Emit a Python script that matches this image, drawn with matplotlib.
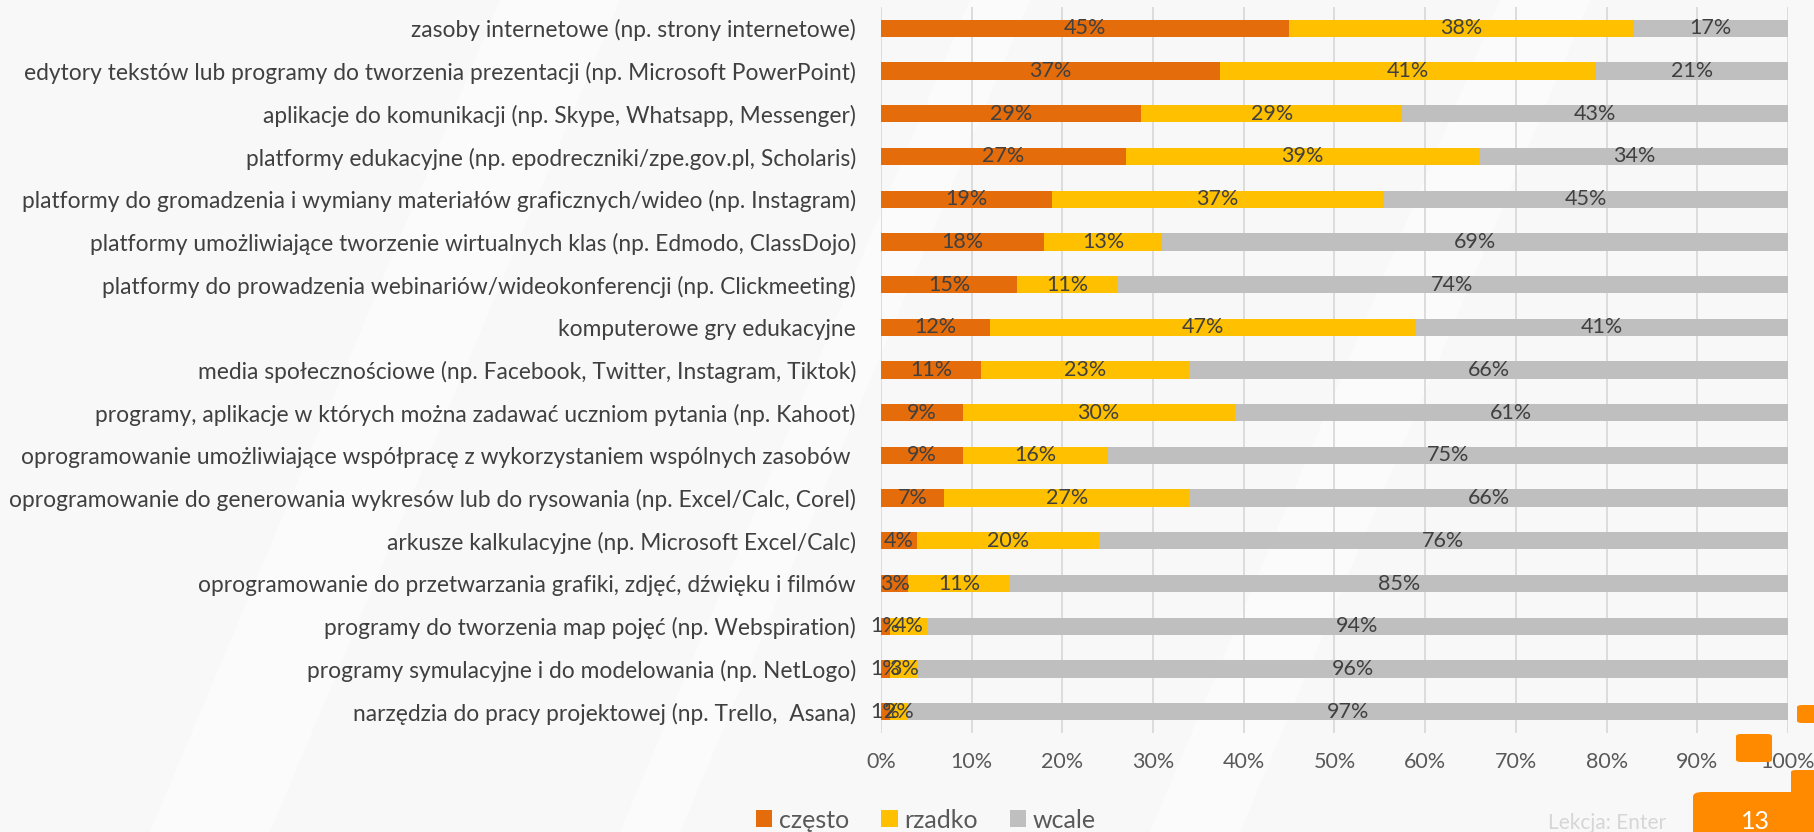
import matplotlib.pyplot as plt
from matplotlib.patches import FancyBboxPatch
import numpy as np

plt.rcParams['font.family'] = ['Lato', 'DejaVu Sans']

categories = [
    'zasoby internetowe (np. strony internetowe)',
    'edytory tekstów lub programy do tworzenia prezentacji (np. Microsoft PowerPoint)',
    'aplikacje do komunikacji (np. Skype, Whatsapp, Messenger)',
    'platformy edukacyjne (np. epodreczniki/zpe.gov.pl, Scholaris)',
    'platformy do gromadzenia i wymiany materiałów graficznych/wideo (np. Instagram)',
    'platformy umożliwiające tworzenie wirtualnych klas (np. Edmodo, ClassDojo)',
    'platformy do prowadzenia webinariów/wideokonferencji (np. Clickmeeting)',
    'komputerowe gry edukacyjne',
    'media społecznościowe (np. Facebook, Twitter, Instagram, Tiktok)',
    'programy, aplikacje w których można zadawać uczniom pytania (np. Kahoot)',
    'oprogramowanie umożliwiające współpracę z wykorzystaniem wspólnych zasobów ',
    'oprogramowanie do generowania wykresów lub do rysowania (np. Excel/Calc, Corel)',
    'arkusze kalkulacyjne (np. Microsoft Excel/Calc)',
    'oprogramowanie do przetwarzania grafiki, zdjęć, dźwięku i filmów',
    'programy do tworzenia map pojęć (np. Webspiration)',
    'programy symulacyjne i do modelowania (np. NetLogo)',
    'narzędzia do pracy projektowej (np. Trello,  Asana)',
]
czesto = [45, 37, 29, 27, 19, 18, 15, 12, 11, 9, 9, 7, 4, 3, 1, 1, 1]
rzadko = [38, 41, 29, 39, 37, 13, 11, 47, 23, 30, 16, 27, 20, 11, 4, 3, 2]
wcale = [17, 21, 43, 34, 45, 69, 74, 41, 66, 61, 75, 66, 76, 85, 94, 96, 97]

series = ['często', 'rzadko', 'wcale']
colors = ['#E46C0A', '#FFC000', '#BFBFBF']

W, H = 1815, 832
fig = plt.figure(figsize=(W / 100, H / 100), dpi=100, facecolor='#F8F8F8')

# faint diagonal streaks of the slide background (behind everything)
for x0, w in [(150, 120), (620, 60), (1150, 90)]:
    fig.patches.append(plt.Polygon([[x0 / W, 0], [(x0 + w) / W, 0], [(x0 + w + 350) / W, 1], [(x0 + 350) / W, 1]],
                                   closed=True, transform=fig.transFigure, facecolor='white',
                                   alpha=0.5, edgecolor='none', zorder=-10))

ax = fig.add_axes([881 / W, 1 - 733 / H, (1788 - 881) / W, (733 - 7) / H])
ax.set_facecolor('none')

data = np.array([czesto, rzadko, wcale], dtype=float)
shares = data / data.sum(axis=0) * 100
y = np.arange(len(categories))
left = np.zeros(len(categories))
for k in range(3):
    ax.barh(y, shares[k], left=left, height=0.405, color=colors[k], label=series[k], zorder=2)
    for yi, l, s, v in zip(y, left, shares[k], data[k]):
        ax.text(l + s / 2, yi, f'{int(v)}%', ha='center', va='center',
                fontsize=15.5, color='#404040', zorder=3)
    left += shares[k]

ax.set_xlim(0, 100)
ax.set_ylim(len(categories) - 0.5, -0.5)
ax.set_xticks(np.arange(0, 101, 10))
ax.set_xticklabels([f'{t}%' for t in range(0, 101, 10)])
ax.set_yticks(y)
ax.set_yticklabels(categories)
ax.tick_params(axis='x', length=0, labelsize=15.5, labelcolor='#595959', pad=14)
ax.tick_params(axis='y', length=0, labelsize=16.4, labelcolor='#404040', pad=18)
ax.grid(axis='x', color='#D9D9D9', linewidth=1.3, zorder=0)
for s in ax.spines.values():
    s.set_visible(False)

leg = fig.legend(loc='center', bbox_to_anchor=(926 / W, 1 - 820 / H), ncol=3, frameon=False,
                 fontsize=18, handlelength=0.65, handleheight=0.65, handletextpad=0.25, columnspacing=1.3)
for t in leg.get_texts():
    t.set_color('#595959')

# slide decorations, bottom right
orange = '#FF8A00'
for x0, y0, w, h, r in [(1797, 705, 30, 18, 5), (1736, 734, 36, 28, 5),
                        (1693, 792, 140, 60, 10), (1791, 770, 40, 40, 5)]:
    fig.patches.append(FancyBboxPatch((x0 / W, 1 - (y0 + h) / H), w / W, h / H,
                                      boxstyle=f'round,pad=0,rounding_size={r / W}',
                                      transform=fig.transFigure, facecolor=orange,
                                      edgecolor='none', zorder=5))
fig.text(1755 / W, 1 - 829 / H, '13', color='white', fontsize=18, ha='center', va='baseline', zorder=6)
fig.text(1548 / W, 1 - 829 / H, 'Lekcja: Enter', color='#D6D6D6', fontsize=15, ha='left', va='baseline', zorder=6)

fig.savefig('out.png', dpi=100, facecolor=fig.get_facecolor())
